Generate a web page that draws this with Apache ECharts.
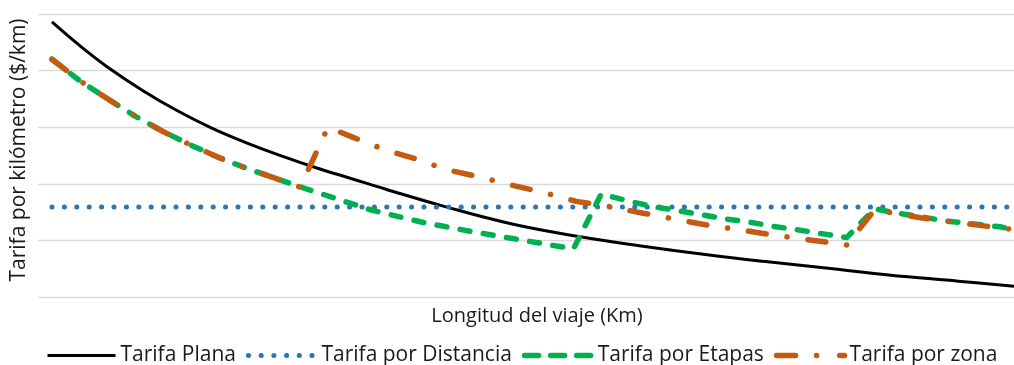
<!DOCTYPE html>
<html>
<head>
<meta charset="utf-8">
<script src="https://cdn.jsdelivr.net/npm/echarts@6/dist/echarts.min.js"></script>
<style>html,body{margin:0;padding:0;background:#fff}#c{width:1014px;height:365px}</style>
</head>
<body>
<div id="c"></div>
<script>
// Data (x = trip length, arbitrary km units; y = fare per km, arbitrary units)
const seriesNames = ['Tarifa Plana', 'Tarifa por Distancia', 'Tarifa por Etapas', 'Tarifa por zona'];

const kmPlana = [1, 3, 5, 7.5, 10, 12.5, 15, 17.5, 20, 22.5, 25, 29, 34, 39, 43, 48, 52, 57, 61, 66, 70];
const valPlana = [4.86, 4.44, 4.06, 3.65, 3.29, 2.98, 2.72, 2.49, 2.28, 2.09, 1.90, 1.61, 1.29, 1.06, 0.91, 0.745, 0.63, 0.50, 0.39, 0.28, 0.19];

const kmDistancia = [1, 70];
const valDistancia = [1.59, 1.59];

const kmEtapas = [1, 3, 5, 7, 9, 11, 13, 15, 17, 19, 21, 24, 27.4, 31, 34.6, 38.4, 40.4, 42.6, 44.3, 46, 47.7, 49.3, 51.1, 52.7, 54.4, 56.2, 58, 60, 61.4, 63.3, 64.9, 67.1, 69, 70];
const valEtapas = [4.20, 3.82, 3.50, 3.19, 2.92, 2.68, 2.46, 2.27, 2.10, 1.93, 1.77, 1.53, 1.33, 1.16, 1.01, 0.85, 1.82, 1.68, 1.59, 1.52, 1.45, 1.38, 1.32, 1.25, 1.19, 1.12, 1.05, 1.56, 1.49, 1.42, 1.35, 1.29, 1.24, 1.19];

const kmZona = [1, 3, 5, 7, 9, 11, 13, 15, 17, 18.8, 20.8, 22.6, 24.9, 27.1, 29.3, 31.7, 33.9, 36.2, 38.6, 40.9, 43.4, 45.6, 48.2, 50.3, 52.6, 55, 58, 60, 63.3, 66.1, 70];
const valZona = [4.20, 3.82, 3.50, 3.19, 2.92, 2.68, 2.46, 2.27, 2.10, 1.94, 3.00, 2.82, 2.60, 2.44, 2.25, 2.12, 1.98, 1.85, 1.69, 1.60, 1.48, 1.38, 1.26, 1.19, 1.10, 1.02, 0.92, 1.54, 1.40, 1.31, 1.19];

const yTicks = [0, 1, 2, 3, 4, 5];

const pairs = (xs, ys) => xs.map((x, i) => [x, ys[i]]);
const FONT = 'Open Sans';
const TXT = '#1a1a1a';
const C = {plana: '#000000', dist: '#2E75B6', etapas: '#00B050', zona: '#C55A11'};
const styles = [
  {color: C.plana, width: 3, type: 'solid'},
  {color: C.dist, width: 5, type: [0.1, 12.3], cap: 'round'},
  {color: C.etapas, width: 5.5, type: [10, 13.5], cap: 'round', join: 'round'},
  {color: C.zona, width: 5.5, type: [18, 21, 0.1, 21], cap: 'round', join: 'round'}
];
const legendStyles = [
  {color: C.plana, width: 3, type: 'solid'},
  {color: C.dist, width: 5, type: [0.1, 12.6], cap: 'round'},
  {color: C.etapas, width: 5.5, type: [14, 12], cap: 'round'},
  {color: C.zona, width: 5.5, type: [19, 21, 0.1, 23], cap: 'round'}
];

const chart = echarts.init(document.getElementById('c'), null, {renderer: 'canvas'});
chart.setOption({
  animation: false,
  grid: {left: 38, right: 0, top: 14, bottom: 68, containLabel: false},
  xAxis: {
    type: 'value', min: 0, max: 70,
    name: 'Longitud del viaje (Km)', nameLocation: 'middle', nameGap: 9,
    nameTextStyle: {fontFamily: FONT, fontSize: 20, color: TXT, verticalAlign: 'top', padding: [0, 0, 0, 22]},
    axisLine: {show: false}, axisTick: {show: false}, axisLabel: {show: false}, splitLine: {show: false}
  },
  yAxis: {
    type: 'value', min: yTicks[0], max: yTicks[yTicks.length - 1], interval: 1,
    name: 'Tarifa por kilómetro ($/km)', nameLocation: 'middle', nameGap: 8, nameRotate: 90,
    nameTextStyle: {fontFamily: FONT, fontSize: 21, color: TXT, padding: [0, 0, 0, 11]},
    axisLine: {show: false}, axisTick: {show: false}, axisLabel: {show: false},
    splitLine: {show: true, lineStyle: {color: '#D9D9D9', width: 1.3}}
  },
  legend: {
    top: 340, left: 41, itemWidth: 68, itemHeight: 14, itemGap: 10,
    textStyle: {fontFamily: FONT, fontSize: 21, color: TXT},
    itemStyle: {opacity: 0},
    data: seriesNames.map((n, i) => ({name: n, lineStyle: legendStyles[i], itemStyle: {opacity: 0}}))
  },
  series: seriesNames.map((n, i) => ({
    name: n, type: 'line',
    data: [pairs(kmPlana, valPlana), pairs(kmDistancia, valDistancia), pairs(kmEtapas, valEtapas), pairs(kmZona, valZona)][i],
    smooth: i === 0 ? 0.4 : false, showSymbol: false, symbol: 'none',
    lineStyle: styles[i], itemStyle: {color: styles[i].color}
  }))
});
</script>
</body>
</html>
